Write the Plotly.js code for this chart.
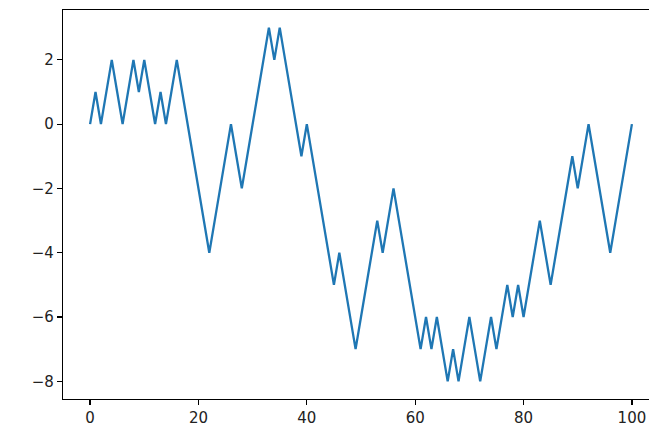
<!DOCTYPE html>
<html>
<head>
<meta charset="utf-8">
<script src="https://cdn.plot.ly/plotly-3.0.1.min.js"></script>
<style>
html, body { margin: 0; padding: 0; overflow: hidden; background: #fff; width: 649px; height: 426px; }
#wrap { width: 649px; height: 426px; overflow: hidden; position: relative; }
#chart { width: 720px; height: 426px; position: absolute; left: 0; top: 0; }
</style>
</head>
<body>
<div id="wrap"><div id="chart"></div></div>
<script>
// Random-walk position at each step 0..100
const steps = Array.from({length: 101}, (_, i) => i);
const positions = [
  0, 1, 0, 1, 2, 1, 0, 1, 2, 1,
  2, 1, 0, 1, 0, 1, 2, 1, 0, -1,
  -2, -3, -4, -3, -2, -1, 0, -1, -2, -1,
  0, 1, 2, 3, 2, 3, 2, 1, 0, -1,
  0, -1, -2, -3, -4, -5, -4, -5, -6, -7,
  -6, -5, -4, -3, -4, -3, -2, -3, -4, -5,
  -6, -7, -6, -7, -6, -7, -8, -7, -8, -7,
  -6, -7, -8, -7, -6, -7, -6, -5, -6, -5,
  -6, -5, -4, -3, -4, -5, -4, -3, -2, -1,
  -2, -1, 0, -1, -2, -3, -4, -3, -2, -1,
  0
];
const xTicks = [0, 20, 40, 60, 80, 100];
const yTicks = [-8, -6, -4, -2, 0, 2];

const trace = {
  x: steps,
  y: positions,
  type: 'scatter',
  mode: 'lines',
  line: { color: '#1f77b4', width: 2.3 },
  hoverinfo: 'skip'
};

const axisCommon = {
  showgrid: false,
  zeroline: false,
  showline: true,
  linecolor: '#000',
  linewidth: 1.2,
  ticks: 'outside',
  ticklen: 5,
  tickwidth: 1.2,
  tickcolor: '#000',
  tickfont: { family: 'DejaVu Sans', size: 15, color: '#222' }
};

const layout = {
  width: 720,
  height: 426,
  margin: { l: 63, r: 61, t: 10, b: 27 },
  paper_bgcolor: '#fff',
  plot_bgcolor: '#fff',
  showlegend: false,
  xaxis: Object.assign({}, axisCommon, {
    mirror: true,
    range: [-5, 105],
    tickmode: 'array',
    tickvals: xTicks,
    ticktext: xTicks.map(String)
  }),
  yaxis: Object.assign({}, axisCommon, {
    mirror: false,
    range: [-8.55, 3.55],
    tickmode: 'array',
    tickvals: yTicks,
    ticktext: yTicks.map(v => v < 0 ? '\u2212' + Math.abs(v) : String(v))
  })
};

Plotly.newPlot('chart', [trace], layout, { staticPlot: true, displayModeBar: false });
</script>
</body>
</html>
